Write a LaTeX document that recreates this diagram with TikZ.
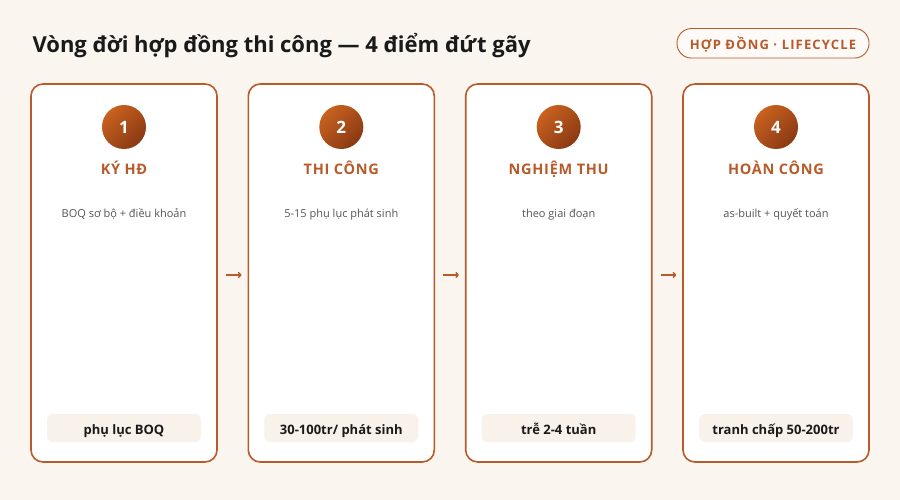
\documentclass[tikz,border=0pt]{standalone}
\usepackage{fontspec}
\setmainfont{Open Sans}
\newfontfamily\spacedfont[LetterSpace=5]{Open Sans}
\newfontfamily\widefont[LetterSpace=9]{Open Sans}
\usetikzlibrary{positioning,arrows.meta}
\definecolor{paper}{HTML}{FAF5EF}
\definecolor{rust}{HTML}{B85A2A}
\definecolor{rustlight}{HTML}{C8621F}
\definecolor{rustdark}{HTML}{8A3914}
\definecolor{ink}{HTML}{1A1A1A}
\definecolor{note}{HTML}{555555}
\definecolor{tagfill}{HTML}{F8F2EB}
\tikzset{stage card/.style={draw=rust,line width=1.6pt,rounded corners=12pt,fill=white,minimum width=186pt,minimum height=378pt}}
\tikzset{stage num/.style={circle,minimum size=44pt,inner sep=0pt,top color=rustlight,bottom color=rustdark,shading angle=45,text=white,font=\bfseries\fontsize{17}{17}\selectfont}}
\tikzset{stage name/.style={anchor=base,text=rust,font=\spacedfont\bfseries\fontsize{14.5}{14.5}\selectfont}}
\tikzset{stage note/.style={anchor=base,text=note,font=\fontsize{11}{11}\selectfont}}
\tikzset{stage tag/.style={fill=tagfill,rounded corners=6pt,minimum width=154pt,minimum height=28pt,inner sep=0pt,text height=13pt,text depth=1pt,text=ink,font=\bfseries\fontsize{13}{13}\selectfont}}
\tikzset{flow/.style={draw=rust,line width=1.4pt,-{To[length=3.5pt,width=6pt]},shorten <=8pt,shorten >=6pt}}

\begin{document}
\begin{tikzpicture}[x=1pt,y=-1pt]
\useasboundingbox[fill=paper] (0,0) rectangle (900,500);

\node[anchor=base west,text=ink,font=\bfseries\fontsize{22}{22}\selectfont] (title) at (29,53) {Vòng đời hợp đồng thi công — 4 điểm đứt gãy};
\node[draw=rust,line width=0.9pt,fill=white!55!paper,rounded corners=14.5pt,minimum width=192pt,minimum height=29.5pt,inner sep=0pt,text height=12pt,text depth=0pt,text=rust,font=\widefont\bfseries\fontsize{13}{13}\selectfont] (badge) at (773,43.3) {HỢP ĐỒNG · LIFECYCLE};

% stage 1
\node[stage card] (card1) at (124,273) {};
\node[stage num] (num1) at (124,127) {1};
\node[stage name] (name1) at (124,175) {KÝ HĐ};
\node[stage note] (note1) at (124,217) {BOQ sơ bộ + điều khoản};
\node[stage tag] (tag1) at (124,428) {phụ lục BOQ};

% stage 2
\node[stage card] (card2) at (341.3,273) {};
\node[stage num] (num2) at (341.3,127) {2};
\node[stage name] (name2) at (341.3,175) {THI CÔNG};
\node[stage note] (note2) at (341.3,217) {5-15 phụ lục phát sinh};
\node[stage tag] (tag2) at (341.3,428) {30-100tr/ phát sinh};

% stage 3
\node[stage card] (card3) at (558.7,273) {};
\node[stage num] (num3) at (558.7,127) {3};
\node[stage name] (name3) at (558.7,175) {NGHIỆM THU};
\node[stage note] (note3) at (558.7,217) {theo giai đoạn};
\node[stage tag] (tag3) at (558.7,428) {trễ 2-4 tuần};

% stage 4
\node[stage card] (card4) at (776,273) {};
\node[stage num] (num4) at (776,127) {4};
\node[stage name] (name4) at (776,175) {HOÀN CÔNG};
\node[stage note] (note4) at (776,217) {as-built + quyết toán};
\node[stage tag] (tag4) at (776,428) {tranh chấp 50-200tr};

\draw[flow] ([yshift=-2pt]card1.east) -- ([yshift=-2pt]card2.west);
\draw[flow] ([yshift=-2pt]card2.east) -- ([yshift=-2pt]card3.west);
\draw[flow] ([yshift=-2pt]card3.east) -- ([yshift=-2pt]card4.west);

\end{tikzpicture}
\end{document}
